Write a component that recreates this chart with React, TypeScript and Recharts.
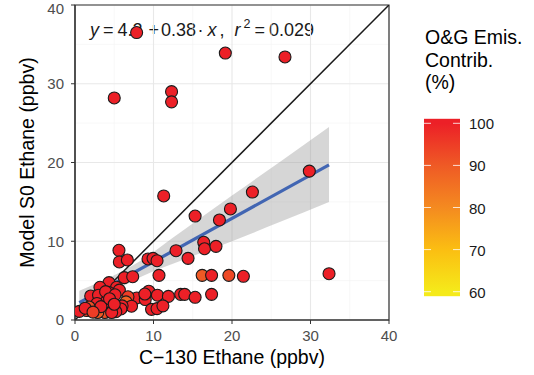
import React from 'react';
import {
  ComposedChart, Scatter, Line, Area, XAxis, YAxis, CartesianGrid, ReferenceArea,
} from 'recharts';

// ---- data ----
const pointX = [7.85, 5.0, 19.15, 26.75, 12.3, 12.3, 29.85, 11.3, 22.6, 19.8, 15.3, 18.4, 16.4, 16.5, 17.96, 12.87, 5.6, 5.65, 6.67, 9.3, 9.94, 10.45, 14.4, 6.28, 7.35, 10.7, 16.2, 17.4, 19.6, 21.45, 32.36, 4.33, 3.18, 5.3, 4.3, 5.65, 2.0, 3.0, 9.4, 10.5, 11.9, 13.46, 13.97, 15.3, 17.4, 7.86, 8.95, 6.75, 6.5, 7.2, 6.0, 9.75, 10.45, 11.2, 5.85, 4.0, 3.95, 2.8, 3.8, 2.9, 1.5, 0.55, 1.8, 5.2, 4.67, 3.9, 5.1, 8.9, 1.3, 3.3, 2.3, 4.4, 5.0];
const pointY = [36.5, 28.2, 33.9, 33.4, 29.0, 27.7, 18.9, 15.75, 16.25, 14.1, 13.2, 12.7, 9.87, 9.05, 9.35, 8.8, 8.85, 7.37, 7.62, 7.75, 7.83, 7.53, 7.83, 5.38, 5.5, 5.67, 5.67, 5.67, 5.67, 5.55, 5.88, 4.74, 4.15, 4.15, 3.5, 3.8, 3.05, 3.15, 3.65, 3.15, 3.0, 3.26, 3.26, 2.88, 3.26, 2.8, 2.6, 2.95, 2.3, 1.75, 1.8, 1.35, 1.45, 1.8, 1.4, 1.3, 2.3, 2.1, 0.95, 0.95, 1.2, 1.1, 1.65, 1.05, 0.95, 3.6, 3.2, 3.3, 1.5, 1.7, 1.0, 2.7, 2.0];
const pointPct = [100, 100, 100, 100, 100, 100, 100, 100, 100, 100, 100, 100, 100, 100, 100, 100, 100, 100, 100, 100, 100, 100, 100, 100, 100, 100, 90, 100, 93, 100, 100, 100, 100, 100, 100, 100, 100, 100, 100, 100, 100, 100, 100, 100, 100, 100, 100, 95, 88, 100, 100, 100, 100, 100, 100, 90, 100, 100, 92, 90, 95, 100, 92, 100, 100, 100, 100, 100, 100, 100, 95, 100, 100];

const oneToOneX = [0, 40];
const oneToOneY = [0, 40];

const fitX = [0.55, 32.36];
const fitY = [2.2, 19.7];

const bandX = [0.55, 4, 8, 13.4, 20, 26, 32.36];
const bandLo = [0.7, 3.0, 5.3, 7.5, 10.0, 12.4, 15.0];
const bandHi = [3.7, 5.2, 7.3, 11.1, 15.8, 20.0, 24.5];

const axisTicks = [0, 10, 20, 30, 40];
const minorTicks = [5, 15, 25, 35];
const AXIS_MIN = 0;
const AXIS_MAX = 40;

const legendTicks = [60, 70, 80, 90, 100];
const legendColors = ['#F5EA1A', '#FBBE12', '#F48A20', '#EF5A25', '#EC2027'];

const equationParts = { intercept: '4.2', slope: '0.38', r2: '0.029' };
const xTitle = 'C\u2212130 Ethane (ppbv)';
const yTitle = 'Model S0 Ethane (ppbv)';
const legendTitle = ['O&G Emis.', 'Contrib.', '(%)'];

// ---- helpers ----
const hexToRgb = (h: string) => [1, 3, 5].map((i) => parseInt(h.slice(i, i + 2), 16));
const colorFor = (v: number) => {
  const lo = legendTicks[0];
  const hi = legendTicks[legendTicks.length - 1];
  const t = Math.max(lo, Math.min(hi, v));
  let i = 0;
  while (i < legendTicks.length - 2 && t > legendTicks[i + 1]) i++;
  const f = (t - legendTicks[i]) / (legendTicks[i + 1] - legendTicks[i]);
  const a = hexToRgb(legendColors[i]);
  const b = hexToRgb(legendColors[i + 1]);
  const c = a.map((x, k) => Math.round(x + (b[k] - x) * f));
  return `rgb(${c[0]},${c[1]},${c[2]})`;
};

const points = pointX.map((x, i) => ({ x, y: pointY[i], v: pointPct[i] }));
const oneToOne = oneToOneX.map((x, i) => ({ x, y: oneToOneY[i] }));
const fit = fitX.map((x, i) => ({ x, y: fitY[i] }));
const band = bandX.map((x, i) => ({ x, range: [bandLo[i], bandHi[i]] }));

const FONT = '"Liberation Sans", Arial, Helvetica, sans-serif';
const W = 534;
const H = 375;
const PLOT_TOP = 5;
const PLOT_BOTTOM_SPACE = 55;
const Y_AXIS_W = 75;
const RIGHT = 145;

// colorbar geometry (legend, not data marks)
const barX = 424;
const barW = 36;
const barTopVal = 123.3; // pixel for 100
const barBotVal = 291.7; // pixel for 60
const barPad = 4.5;
const legendY = (v: number) =>
  barBotVal - ((v - legendTicks[0]) / (legendTicks[legendTicks.length - 1] - legendTicks[0])) * (barBotVal - barTopVal);

const scaleOrLinear = (axis: any, v: number, start: number, size: number, invert: boolean) => {
  if (axis && typeof axis.scale === 'function') return axis.scale(v);
  const f = (v - AXIS_MIN) / (AXIS_MAX - AXIS_MIN);
  return invert ? start + size * (1 - f) : start + size * f;
};

const Dot = (props: any) => {
  const { cx, cy, payload } = props;
  if (cx == null || cy == null) return null;
  return <circle cx={cx} cy={cy} r={6} fill={colorFor(payload.v)} stroke="#1a1a1a" strokeWidth={1.1} />;
};

export default function App() {
  const barTop = barTopVal - barPad;
  const barH = barBotVal - barTopVal + 2 * barPad;
  const gradStops = legendTicks
    .map((t, i) => ({ off: (legendY(t) - barTop) / barH, c: legendColors[i] }))
    .sort((a, b) => a.off - b.off);
  const eq = { fontSize: 18, fill: '#1a1a1a', fontFamily: FONT } as const;
  return (
    <div style={{ position: 'absolute', left: 0, top: 0, width: W, height: H, background: '#fff', fontFamily: FONT }}>
      {/* underlay: texts & legend */}
      <svg width={W} height={H} style={{ position: 'absolute', left: 0, top: 0 }}>
        <defs>
          <linearGradient id="cb" x1="0" y1="0" x2="0" y2="1">
            {gradStops.map((s, i) => (
              <stop key={i} offset={s.off} stopColor={s.c} />
            ))}
          </linearGradient>
        </defs>
        <text y={36} {...eq}>
          <tspan x={90} fontStyle="italic">y</tspan>
          <tspan x={103}>=</tspan>
          <tspan x={117.5}>{equationParts.intercept}</tspan>
          <tspan x={148.5}>+</tspan>
          <tspan x={161}>{equationParts.slope}</tspan>
          <tspan x={197.5}>·</tspan>
          <tspan x={207.5} fontStyle="italic">x</tspan>
          <tspan x={219.5}>,</tspan>
          <tspan x={234.5} fontStyle="italic">r</tspan>
          <tspan x={243.5} dy={-8} fontSize={12.5}>2</tspan>
          <tspan x={254.5} dy={8}>=</tspan>
          <tspan x={269}>{equationParts.r2}</tspan>
        </text>
        <text x={232} y={364} fontSize={19.5} textAnchor="middle" fill="#000" fontFamily={FONT}>{xTitle}</text>
        <text
          x={0}
          y={0}
          fontSize={19.5}
          textAnchor="middle"
          fill="#000"
          fontFamily={FONT}
          transform={`translate(33.5, 162.5) rotate(-90)`}
        >
          {yTitle}
        </text>
        {legendTitle.map((t, i) => (
          <text key={t} x={425} y={44 + i * 22.5} fontSize={19.5} fill="#000" fontFamily={FONT}>{t}</text>
        ))}
        <rect x={barX} y={barTop} width={barW} height={barH} fill="url(#cb)" />
        {legendTicks.map((t) => (
          <g key={t}>
            <line x1={barX} x2={barX + 7} y1={legendY(t)} y2={legendY(t)} stroke="#fff" strokeWidth={1} opacity={0.8} />
            <line x1={barX + barW - 7} x2={barX + barW} y1={legendY(t)} y2={legendY(t)} stroke="#fff" strokeWidth={1} opacity={0.8} />
            <text x={469} y={legendY(t) + 6} fontSize={15} fill="#1a1a1a" fontFamily={FONT}>{t}</text>
          </g>
        ))}
      </svg>
      <div style={{ position: 'absolute', left: 0, top: 0 }}>
        <ComposedChart
          width={W}
          height={H}
          margin={{ top: PLOT_TOP, right: RIGHT, left: 0, bottom: PLOT_BOTTOM_SPACE - 30 }}
          style={{ fontFamily: FONT }}
        >
          <CartesianGrid
            stroke="#F3F3F3"
            strokeWidth={0.6}
            fill="none"
            horizontalCoordinatesGenerator={(p: any) =>
              minorTicks.map((v) => scaleOrLinear(p.yAxis, v, p.offset.top, p.offset.height, true))
            }
            verticalCoordinatesGenerator={(p: any) =>
              minorTicks.map((v) => scaleOrLinear(p.xAxis, v, p.offset.left, p.offset.width, false))
            }
          />
          <CartesianGrid stroke="#E8E8E8" strokeWidth={1.1} fill="none" />
          <XAxis
            dataKey="x"
            type="number"
            domain={[AXIS_MIN, AXIS_MAX]}
            ticks={axisTicks}
            allowDataOverflow
            height={30}
            tickSize={4}
            tickMargin={6}
            stroke="#333"
            tickLine={{ stroke: '#333' }}
            axisLine={{ stroke: '#333', strokeWidth: 1.2 }}
            tick={{ fontSize: 15, fill: '#4D4D4D', fontFamily: FONT }}
          />
          <YAxis
            type="number"
            domain={[AXIS_MIN, AXIS_MAX]}
            ticks={axisTicks}
            allowDataOverflow
            width={Y_AXIS_W}
            tickSize={4}
            tickMargin={7}
            stroke="#333"
            tickLine={{ stroke: '#333' }}
            axisLine={{ stroke: '#333', strokeWidth: 1.2 }}
            tick={{ fontSize: 15, fill: '#4D4D4D', fontFamily: FONT }}
          />
          <Area
            data={band}
            dataKey="range"
            type="monotone"
            stroke="none"
            fill="#999999"
            fillOpacity={0.4}
            isAnimationActive={false}
            dot={false}
            activeDot={false}
          />
          <Line
            data={oneToOne}
            dataKey="y"
            stroke="#1a1a1a"
            strokeWidth={1.5}
            dot={false}
            activeDot={false}
            isAnimationActive={false}
          />
          <Line
            data={fit}
            dataKey="y"
            stroke="#4266B3"
            strokeWidth={3.2}
            dot={false}
            activeDot={false}
            isAnimationActive={false}
          />
          <Scatter data={points} dataKey="y" isAnimationActive={false} shape={Dot} />
          <ReferenceArea x1={AXIS_MIN} x2={AXIS_MAX} y1={AXIS_MIN} y2={AXIS_MAX} fill="none" stroke="#333" strokeWidth={1.2} fillOpacity={0} />
        </ComposedChart>
      </div>
    </div>
  );
}
